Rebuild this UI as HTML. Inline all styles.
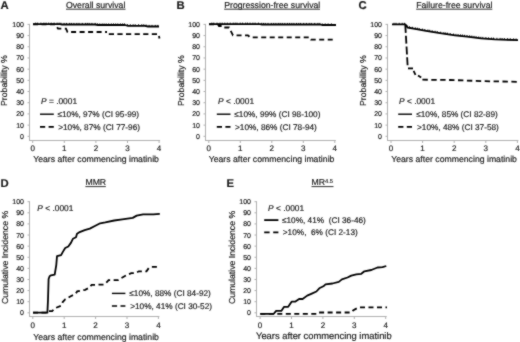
<!DOCTYPE html>
<html><head><meta charset="utf-8"><style>
html,body{margin:0;padding:0;background:#fff;}
svg{display:block;}
text{font-family:"Liberation Sans", sans-serif;fill:#1a1a1a;stroke:#1a1a1a;stroke-width:0.18px;text-rendering:geometricPrecision;}
</style></head><body>
<svg width="520" height="342" viewBox="0 0 520 342">
<defs><filter id="bl" x="0" y="0" width="1" height="1" color-interpolation-filters="sRGB"><feConvolveMatrix order="3" kernelMatrix="1 2 1 2 16 2 1 2 1" divisor="28" edgeMode="duplicate"/></filter></defs>
<g filter="url(#bl)">
<rect width="520" height="342" fill="#fff"/>
<line x1="29.5" y1="23.9" x2="29.5" y2="140.5" stroke="#b0b0b0" stroke-width="1"/>
<line x1="29.0" y1="140.5" x2="160.10000000000002" y2="140.5" stroke="#b0b0b0" stroke-width="1"/>
<line x1="27.5" y1="136.30" x2="29.5" y2="136.30" stroke="#b0b0b0" stroke-width="1"/>
<text x="24" y="138.80" font-size="7" text-anchor="end">0</text>
<line x1="27.5" y1="125.11" x2="29.5" y2="125.11" stroke="#b0b0b0" stroke-width="1"/>
<text x="24" y="127.61" font-size="7" text-anchor="end">10</text>
<line x1="27.5" y1="113.92" x2="29.5" y2="113.92" stroke="#b0b0b0" stroke-width="1"/>
<text x="24" y="116.42" font-size="7" text-anchor="end">20</text>
<line x1="27.5" y1="102.73" x2="29.5" y2="102.73" stroke="#b0b0b0" stroke-width="1"/>
<text x="24" y="105.23" font-size="7" text-anchor="end">30</text>
<line x1="27.5" y1="91.54" x2="29.5" y2="91.54" stroke="#b0b0b0" stroke-width="1"/>
<text x="24" y="94.04" font-size="7" text-anchor="end">40</text>
<line x1="27.5" y1="80.35" x2="29.5" y2="80.35" stroke="#b0b0b0" stroke-width="1"/>
<text x="24" y="82.85" font-size="7" text-anchor="end">50</text>
<line x1="27.5" y1="69.16" x2="29.5" y2="69.16" stroke="#b0b0b0" stroke-width="1"/>
<text x="24" y="71.66" font-size="7" text-anchor="end">60</text>
<line x1="27.5" y1="57.97" x2="29.5" y2="57.97" stroke="#b0b0b0" stroke-width="1"/>
<text x="24" y="60.47" font-size="7" text-anchor="end">70</text>
<line x1="27.5" y1="46.78" x2="29.5" y2="46.78" stroke="#b0b0b0" stroke-width="1"/>
<text x="24" y="49.28" font-size="7" text-anchor="end">80</text>
<line x1="27.5" y1="35.59" x2="29.5" y2="35.59" stroke="#b0b0b0" stroke-width="1"/>
<text x="24" y="38.09" font-size="7" text-anchor="end">90</text>
<line x1="27.5" y1="24.40" x2="29.5" y2="24.40" stroke="#b0b0b0" stroke-width="1"/>
<text x="24" y="26.90" font-size="7" text-anchor="end">100</text>
<line x1="32.70" y1="140.5" x2="32.70" y2="143.0" stroke="#b0b0b0" stroke-width="1"/>
<text x="32.70" y="150.8" font-size="8" text-anchor="middle">0</text>
<line x1="64.30" y1="140.5" x2="64.30" y2="143.0" stroke="#b0b0b0" stroke-width="1"/>
<text x="64.30" y="150.8" font-size="8" text-anchor="middle">1</text>
<line x1="95.90" y1="140.5" x2="95.90" y2="143.0" stroke="#b0b0b0" stroke-width="1"/>
<text x="95.90" y="150.8" font-size="8" text-anchor="middle">2</text>
<line x1="127.50" y1="140.5" x2="127.50" y2="143.0" stroke="#b0b0b0" stroke-width="1"/>
<text x="127.50" y="150.8" font-size="8" text-anchor="middle">3</text>
<line x1="159.10" y1="140.5" x2="159.10" y2="143.0" stroke="#b0b0b0" stroke-width="1"/>
<text x="159.10" y="150.8" font-size="8" text-anchor="middle">4</text>
<text x="33.2" y="162.0" font-size="8.7">Years after commencing imatinib</text>
<text transform="translate(7.3,80.6) rotate(-90)" font-size="8.7" text-anchor="middle">Probability %</text>
<text x="0.5" y="9.4" font-size="11.3" font-weight="bold">A</text>
<text x="66" y="7.8" font-size="8.7">Overall survival</text>
<line x1="66" y1="9.2" x2="125.5" y2="9.2" stroke="#333" stroke-width="1"/>
<text x="41" y="104" font-size="8.4"><tspan font-style="italic">P</tspan> = .0001</text>
<line x1="40" y1="114.2" x2="53.8" y2="114.2" stroke="#000" stroke-width="1.4"/>
<line x1="40" y1="126.8" x2="53.8" y2="126.8" stroke="#000" stroke-width="1.7" stroke-dasharray="5.2 3.4"/>
<text x="57.5" y="117.2" font-size="8.25" xml:space="preserve">≤10%, 97% (CI 95-99)</text>
<text x="58.2" y="129.8" font-size="8.25" xml:space="preserve">&gt;10%, 87% (CI 77-96)</text>
<path d="M33,24.2 H60 L62,24.5 H95 L98,25 H125 L128,25.8 H145 L148,26.5 H159" fill="none" stroke="#000" stroke-width="1.8" stroke-linejoin="round"/>
<path d="M33,24.4 H55 L56,25.5 L58,28.6 H66 L67.5,32 H107" fill="none" stroke="#000" stroke-width="1.8" stroke-dasharray="5 3.5"/>
<path d="M108.8,34.2 H158.5 L159.5,38.5" fill="none" stroke="#000" stroke-width="1.8" stroke-dasharray="5.2 3.4"/>
<path d="M35.7,22.6v1.9 M37.7,22.6v1.9 M40.9,22.6v1.9 M43.9,22.6v1.9 M46.1,22.6v1.9 M48.7,22.6v1.9 M51.2,22.6v1.9 M54.1,22.6v1.9 M57.1,22.6v1.9 M59.1,22.6v1.9 M60.9,22.7v1.9 M64.1,22.9v1.9 M66.5,22.9v1.9 M69.6,22.9v1.9 M71.4,22.9v1.9 M73.9,22.9v1.9 M76.8,22.9v1.9 M79.0,22.9v1.9 M82.3,22.9v1.9 M85.6,22.9v1.9 M87.4,22.9v1.9 M89.2,22.9v1.9 M91.9,22.9v1.9 M95.2,22.9v1.9 M97.6,23.3v1.9 M99.8,23.4v1.9 M102.2,23.4v1.9 M104.1,23.4v1.9 M106.2,23.4v1.9 M108.7,23.4v1.9 M111.3,23.4v1.9 M113.5,23.4v1.9 M115.7,23.4v1.9 M117.8,23.4v1.9 M120.4,23.4v1.9 M122.6,23.4v1.9 M124.5,23.4v1.9 M127.6,24.1v1.9 M130.3,24.2v1.9 M133.1,24.2v1.9 M135.2,24.2v1.9 M138.6,24.2v1.9 M141.8,24.2v1.9 M143.8,24.2v1.9 M146.1,24.5v1.9 M149.1,24.9v1.9 M152.0,24.9v1.9 M155.3,24.9v1.9 M157.8,24.9v1.9" fill="none" stroke="#000" stroke-width="0.9"/>
<line x1="205.5" y1="23.9" x2="205.5" y2="140.5" stroke="#b0b0b0" stroke-width="1"/>
<line x1="205.0" y1="140.5" x2="335.8" y2="140.5" stroke="#b0b0b0" stroke-width="1"/>
<line x1="203.5" y1="136.30" x2="205.5" y2="136.30" stroke="#b0b0b0" stroke-width="1"/>
<text x="200" y="138.80" font-size="7" text-anchor="end">0</text>
<line x1="203.5" y1="125.11" x2="205.5" y2="125.11" stroke="#b0b0b0" stroke-width="1"/>
<text x="200" y="127.61" font-size="7" text-anchor="end">10</text>
<line x1="203.5" y1="113.92" x2="205.5" y2="113.92" stroke="#b0b0b0" stroke-width="1"/>
<text x="200" y="116.42" font-size="7" text-anchor="end">20</text>
<line x1="203.5" y1="102.73" x2="205.5" y2="102.73" stroke="#b0b0b0" stroke-width="1"/>
<text x="200" y="105.23" font-size="7" text-anchor="end">30</text>
<line x1="203.5" y1="91.54" x2="205.5" y2="91.54" stroke="#b0b0b0" stroke-width="1"/>
<text x="200" y="94.04" font-size="7" text-anchor="end">40</text>
<line x1="203.5" y1="80.35" x2="205.5" y2="80.35" stroke="#b0b0b0" stroke-width="1"/>
<text x="200" y="82.85" font-size="7" text-anchor="end">50</text>
<line x1="203.5" y1="69.16" x2="205.5" y2="69.16" stroke="#b0b0b0" stroke-width="1"/>
<text x="200" y="71.66" font-size="7" text-anchor="end">60</text>
<line x1="203.5" y1="57.97" x2="205.5" y2="57.97" stroke="#b0b0b0" stroke-width="1"/>
<text x="200" y="60.47" font-size="7" text-anchor="end">70</text>
<line x1="203.5" y1="46.78" x2="205.5" y2="46.78" stroke="#b0b0b0" stroke-width="1"/>
<text x="200" y="49.28" font-size="7" text-anchor="end">80</text>
<line x1="203.5" y1="35.59" x2="205.5" y2="35.59" stroke="#b0b0b0" stroke-width="1"/>
<text x="200" y="38.09" font-size="7" text-anchor="end">90</text>
<line x1="203.5" y1="24.40" x2="205.5" y2="24.40" stroke="#b0b0b0" stroke-width="1"/>
<text x="200" y="26.90" font-size="7" text-anchor="end">100</text>
<line x1="208.80" y1="140.5" x2="208.80" y2="143.0" stroke="#b0b0b0" stroke-width="1"/>
<text x="208.80" y="150.8" font-size="8" text-anchor="middle">0</text>
<line x1="240.30" y1="140.5" x2="240.30" y2="143.0" stroke="#b0b0b0" stroke-width="1"/>
<text x="240.30" y="150.8" font-size="8" text-anchor="middle">1</text>
<line x1="271.80" y1="140.5" x2="271.80" y2="143.0" stroke="#b0b0b0" stroke-width="1"/>
<text x="271.80" y="150.8" font-size="8" text-anchor="middle">2</text>
<line x1="303.30" y1="140.5" x2="303.30" y2="143.0" stroke="#b0b0b0" stroke-width="1"/>
<text x="303.30" y="150.8" font-size="8" text-anchor="middle">3</text>
<line x1="334.80" y1="140.5" x2="334.80" y2="143.0" stroke="#b0b0b0" stroke-width="1"/>
<text x="334.80" y="150.8" font-size="8" text-anchor="middle">4</text>
<text x="208.7" y="162.0" font-size="8.7">Years after commencing imatinib</text>
<text transform="translate(183.6,80.6) rotate(-90)" font-size="8.7" text-anchor="middle">Probability %</text>
<text x="176.5" y="9.4" font-size="11.3" font-weight="bold">B</text>
<text x="224.2" y="7.8" font-size="8.7">Progression-free survival</text>
<line x1="224.2" y1="9.2" x2="320" y2="9.2" stroke="#333" stroke-width="1"/>
<text x="218" y="104" font-size="8.4"><tspan font-style="italic">P</tspan> &lt; .0001</text>
<line x1="216.8" y1="114.2" x2="230.5" y2="114.2" stroke="#000" stroke-width="1.4"/>
<line x1="216.8" y1="126.8" x2="230.5" y2="126.8" stroke="#000" stroke-width="1.7" stroke-dasharray="5.2 3.4"/>
<text x="234.3" y="117.2" font-size="8.25" xml:space="preserve">≤10%, 99% (CI 98-100)</text>
<text x="235" y="129.8" font-size="8.25" xml:space="preserve">&gt;10%, 86% (CI 78-94)</text>
<path d="M209,24.2 H260 L262,24.5 H320 L322,25 H336" fill="none" stroke="#000" stroke-width="1.8" stroke-linejoin="round"/>
<path d="M209,24.4 H218 L219,26 H222 L223,27.5 H229 L233,35.3 H248 L250,37.3 H310 L311,39.6 H336" fill="none" stroke="#000" stroke-width="1.8" stroke-dasharray="5 3.5"/>
<path d="M211.8,22.6v1.9 M213.8,22.6v1.9 M217.0,22.6v1.9 M220.0,22.6v1.9 M222.2,22.6v1.9 M224.8,22.6v1.9 M227.3,22.6v1.9 M230.2,22.6v1.9 M233.2,22.6v1.9 M235.2,22.6v1.9 M237.0,22.6v1.9 M240.2,22.6v1.9 M242.6,22.6v1.9 M245.7,22.6v1.9 M247.5,22.6v1.9 M250.0,22.6v1.9 M252.9,22.6v1.9 M255.1,22.6v1.9 M258.4,22.6v1.9 M261.7,22.8v1.9 M263.5,22.9v1.9 M265.3,22.9v1.9 M268.0,22.9v1.9 M271.3,22.9v1.9 M273.7,22.9v1.9 M275.9,22.9v1.9 M278.3,22.9v1.9 M280.2,22.9v1.9 M282.3,22.9v1.9 M284.8,22.9v1.9 M287.4,22.9v1.9 M289.6,22.9v1.9 M291.8,22.9v1.9 M293.9,22.9v1.9 M296.5,22.9v1.9 M298.7,22.9v1.9 M300.6,22.9v1.9 M303.7,22.9v1.9 M306.4,22.9v1.9 M309.2,22.9v1.9 M311.3,22.9v1.9 M314.7,22.9v1.9 M317.9,22.9v1.9 M319.9,22.9v1.9 M322.2,23.4v1.9 M325.2,23.4v1.9 M328.1,23.4v1.9 M331.4,23.4v1.9" fill="none" stroke="#000" stroke-width="0.9"/>
<line x1="387.5" y1="23.9" x2="387.5" y2="140.5" stroke="#b0b0b0" stroke-width="1"/>
<line x1="387.0" y1="140.5" x2="518.4" y2="140.5" stroke="#b0b0b0" stroke-width="1"/>
<line x1="385.5" y1="136.30" x2="387.5" y2="136.30" stroke="#b0b0b0" stroke-width="1"/>
<text x="382" y="138.80" font-size="7" text-anchor="end">0</text>
<line x1="385.5" y1="125.11" x2="387.5" y2="125.11" stroke="#b0b0b0" stroke-width="1"/>
<text x="382" y="127.61" font-size="7" text-anchor="end">10</text>
<line x1="385.5" y1="113.92" x2="387.5" y2="113.92" stroke="#b0b0b0" stroke-width="1"/>
<text x="382" y="116.42" font-size="7" text-anchor="end">20</text>
<line x1="385.5" y1="102.73" x2="387.5" y2="102.73" stroke="#b0b0b0" stroke-width="1"/>
<text x="382" y="105.23" font-size="7" text-anchor="end">30</text>
<line x1="385.5" y1="91.54" x2="387.5" y2="91.54" stroke="#b0b0b0" stroke-width="1"/>
<text x="382" y="94.04" font-size="7" text-anchor="end">40</text>
<line x1="385.5" y1="80.35" x2="387.5" y2="80.35" stroke="#b0b0b0" stroke-width="1"/>
<text x="382" y="82.85" font-size="7" text-anchor="end">50</text>
<line x1="385.5" y1="69.16" x2="387.5" y2="69.16" stroke="#b0b0b0" stroke-width="1"/>
<text x="382" y="71.66" font-size="7" text-anchor="end">60</text>
<line x1="385.5" y1="57.97" x2="387.5" y2="57.97" stroke="#b0b0b0" stroke-width="1"/>
<text x="382" y="60.47" font-size="7" text-anchor="end">70</text>
<line x1="385.5" y1="46.78" x2="387.5" y2="46.78" stroke="#b0b0b0" stroke-width="1"/>
<text x="382" y="49.28" font-size="7" text-anchor="end">80</text>
<line x1="385.5" y1="35.59" x2="387.5" y2="35.59" stroke="#b0b0b0" stroke-width="1"/>
<text x="382" y="38.09" font-size="7" text-anchor="end">90</text>
<line x1="385.5" y1="24.40" x2="387.5" y2="24.40" stroke="#b0b0b0" stroke-width="1"/>
<text x="382" y="26.90" font-size="7" text-anchor="end">100</text>
<line x1="391.00" y1="140.5" x2="391.00" y2="143.0" stroke="#b0b0b0" stroke-width="1"/>
<text x="391.00" y="150.8" font-size="8" text-anchor="middle">0</text>
<line x1="422.60" y1="140.5" x2="422.60" y2="143.0" stroke="#b0b0b0" stroke-width="1"/>
<text x="422.60" y="150.8" font-size="8" text-anchor="middle">1</text>
<line x1="454.20" y1="140.5" x2="454.20" y2="143.0" stroke="#b0b0b0" stroke-width="1"/>
<text x="454.20" y="150.8" font-size="8" text-anchor="middle">2</text>
<line x1="485.80" y1="140.5" x2="485.80" y2="143.0" stroke="#b0b0b0" stroke-width="1"/>
<text x="485.80" y="150.8" font-size="8" text-anchor="middle">3</text>
<line x1="517.40" y1="140.5" x2="517.40" y2="143.0" stroke="#b0b0b0" stroke-width="1"/>
<text x="517.40" y="150.8" font-size="8" text-anchor="middle">4</text>
<text x="391.2" y="162.0" font-size="8.7">Years after commencing imatinib</text>
<text transform="translate(365.8,80.6) rotate(-90)" font-size="8.7" text-anchor="middle">Probability %</text>
<text x="358.5" y="9.4" font-size="11.3" font-weight="bold">C</text>
<text x="416.2" y="7.8" font-size="8.7">Failure-free survival</text>
<line x1="416.2" y1="9.2" x2="492.3" y2="9.2" stroke="#333" stroke-width="1"/>
<text x="399" y="104" font-size="8.4"><tspan font-style="italic">P</tspan> &lt; .0001</text>
<line x1="398.2" y1="114.2" x2="412" y2="114.2" stroke="#000" stroke-width="1.4"/>
<line x1="398.2" y1="126.8" x2="412" y2="126.8" stroke="#000" stroke-width="1.7" stroke-dasharray="5.2 3.4"/>
<text x="416.2" y="117.2" font-size="8.25" xml:space="preserve">≤10%, 85% (CI 82-89)</text>
<text x="417" y="129.8" font-size="8.25" xml:space="preserve">&gt;10%, 48% (CI 37-58)</text>
<path d="M392,24.4 H405.5 L407.5,27.5 L415,28.9 L426,30.8 L440,33.2 L455,35.4 L467,36.6 L481,38.4 L495,39.3 L518,40.2" fill="none" stroke="#000" stroke-width="1.8" stroke-linejoin="round"/>
<path d="M422.4,79.7 L450,80 L485,81.2 L518,81.8" fill="none" stroke="#000" stroke-width="1.8" stroke-dasharray="5.4 3.5"/>
<path d="M405.3,24.9 L407.6,65.5" fill="none" stroke="#000" stroke-width="1.8" stroke-dasharray="8 2.8"/>
<path d="M408,68.4 H413" fill="none" stroke="#000" stroke-width="1.8"/>
<path d="M413.6,70.8 L415.5,74.8" fill="none" stroke="#000" stroke-width="1.8"/>
<path d="M418,75.6 L421.2,77.6" fill="none" stroke="#000" stroke-width="1.8"/>
<path d="M394.0,22.8v1.9 M396.0,22.8v1.9 M399.2,22.8v1.9 M402.2,22.8v1.9 M404.4,22.8v1.9 M407.0,25.1v1.9 M409.5,26.3v1.9 M412.4,26.8v1.9 M415.4,27.4v1.9 M417.4,27.7v1.9 M419.2,28.0v1.9 M422.4,28.6v1.9 M424.8,29.0v1.9 M427.9,29.5v1.9 M429.7,29.8v1.9 M432.2,30.3v1.9 M435.1,30.8v1.9 M437.3,31.1v1.9 M440.6,31.7v1.9 M443.9,32.2v1.9 M445.7,32.4v1.9 M447.5,32.7v1.9 M450.2,33.1v1.9 M453.5,33.6v1.9 M455.9,33.9v1.9 M458.1,34.1v1.9 M460.5,34.4v1.9 M462.4,34.5v1.9 M464.5,34.8v1.9 M467.0,35.0v1.9 M469.6,35.3v1.9 M471.8,35.6v1.9 M474.0,35.9v1.9 M476.1,36.2v1.9 M478.7,36.5v1.9 M480.9,36.8v1.9 M482.8,36.9v1.9 M485.9,37.1v1.9 M488.6,37.3v1.9 M491.4,37.5v1.9 M493.5,37.6v1.9 M496.9,37.8v1.9 M500.1,37.9v1.9 M502.1,38.0v1.9 M504.4,38.1v1.9 M507.4,38.2v1.9 M510.3,38.3v1.9 M513.6,38.4v1.9 M516.1,38.5v1.9" fill="none" stroke="#000" stroke-width="0.9"/>
<line x1="29.5" y1="201.2" x2="29.5" y2="316.5" stroke="#b0b0b0" stroke-width="1"/>
<line x1="29.0" y1="316.5" x2="159.39999999999998" y2="316.5" stroke="#b0b0b0" stroke-width="1"/>
<line x1="27.5" y1="312.80" x2="29.5" y2="312.80" stroke="#b0b0b0" stroke-width="1"/>
<text x="24" y="315.30" font-size="7" text-anchor="end">0</text>
<line x1="27.5" y1="301.69" x2="29.5" y2="301.69" stroke="#b0b0b0" stroke-width="1"/>
<text x="24" y="304.19" font-size="7" text-anchor="end">10</text>
<line x1="27.5" y1="290.58" x2="29.5" y2="290.58" stroke="#b0b0b0" stroke-width="1"/>
<text x="24" y="293.08" font-size="7" text-anchor="end">20</text>
<line x1="27.5" y1="279.47" x2="29.5" y2="279.47" stroke="#b0b0b0" stroke-width="1"/>
<text x="24" y="281.97" font-size="7" text-anchor="end">30</text>
<line x1="27.5" y1="268.36" x2="29.5" y2="268.36" stroke="#b0b0b0" stroke-width="1"/>
<text x="24" y="270.86" font-size="7" text-anchor="end">40</text>
<line x1="27.5" y1="257.25" x2="29.5" y2="257.25" stroke="#b0b0b0" stroke-width="1"/>
<text x="24" y="259.75" font-size="7" text-anchor="end">50</text>
<line x1="27.5" y1="246.14" x2="29.5" y2="246.14" stroke="#b0b0b0" stroke-width="1"/>
<text x="24" y="248.64" font-size="7" text-anchor="end">60</text>
<line x1="27.5" y1="235.03" x2="29.5" y2="235.03" stroke="#b0b0b0" stroke-width="1"/>
<text x="24" y="237.53" font-size="7" text-anchor="end">70</text>
<line x1="27.5" y1="223.92" x2="29.5" y2="223.92" stroke="#b0b0b0" stroke-width="1"/>
<text x="24" y="226.42" font-size="7" text-anchor="end">80</text>
<line x1="27.5" y1="212.81" x2="29.5" y2="212.81" stroke="#b0b0b0" stroke-width="1"/>
<text x="24" y="215.31" font-size="7" text-anchor="end">90</text>
<line x1="27.5" y1="201.70" x2="29.5" y2="201.70" stroke="#b0b0b0" stroke-width="1"/>
<text x="24" y="204.20" font-size="7" text-anchor="end">100</text>
<line x1="32.80" y1="316.5" x2="32.80" y2="319.0" stroke="#b0b0b0" stroke-width="1"/>
<text x="32.80" y="327.6" font-size="8" text-anchor="middle">0</text>
<line x1="64.20" y1="316.5" x2="64.20" y2="319.0" stroke="#b0b0b0" stroke-width="1"/>
<text x="64.20" y="327.6" font-size="8" text-anchor="middle">1</text>
<line x1="95.60" y1="316.5" x2="95.60" y2="319.0" stroke="#b0b0b0" stroke-width="1"/>
<text x="95.60" y="327.6" font-size="8" text-anchor="middle">2</text>
<line x1="127.00" y1="316.5" x2="127.00" y2="319.0" stroke="#b0b0b0" stroke-width="1"/>
<text x="127.00" y="327.6" font-size="8" text-anchor="middle">3</text>
<line x1="158.40" y1="316.5" x2="158.40" y2="319.0" stroke="#b0b0b0" stroke-width="1"/>
<text x="158.40" y="327.6" font-size="8" text-anchor="middle">4</text>
<text x="33.2" y="339.6" font-size="8.7">Years after commencing imatinib</text>
<text transform="translate(7.9,257.5) rotate(-90)" font-size="8.7" text-anchor="middle">Cumulative Incidence %</text>
<text x="0.5" y="186.8" font-size="11.3" font-weight="bold">D</text>
<text x="85.4" y="185.4" font-size="8.7">MMR</text>
<line x1="85.4" y1="186.6" x2="105.8" y2="186.6" stroke="#333" stroke-width="1"/>
<text x="37.3" y="211" font-size="8.4"><tspan font-style="italic">P</tspan> &lt; .0001</text>
<line x1="111.9" y1="293.4" x2="125.4" y2="293.4" stroke="#000" stroke-width="1.4"/>
<line x1="111.9" y1="306" x2="125.4" y2="306" stroke="#000" stroke-width="1.7" stroke-dasharray="5.2 3.4"/>
<text x="129.3" y="296.4" font-size="8.25" xml:space="preserve">≤10%, 88% (CI 84-92)</text>
<text x="130.2" y="309.0" font-size="8.25" xml:space="preserve">&gt;10%, 41% (CI 30-52)</text>
<path d="M33,312.6 H47.4 L48,300 L48.6,279 L49.6,276.2 L51,275.3 L54.7,274.6 L56.3,264.8 L57,256.2 L61.1,255.2 L62.7,252.1 L65.2,248 L68.3,246.5 L70.9,242.9 L72.9,238.8 L76,237.3 L77,233.7 L79,232.4 L84.7,230.1 L89.8,228.6 L94.9,226 L100.2,223.3 L105.3,222.4 L114.2,220.5 L122.3,219.4 L132.7,217.9 L136.7,215.6 L143.1,214.4 L153.4,214.4 L159.8,213.8" fill="none" stroke="#000" stroke-width="1.8" stroke-linejoin="round"/>
<path d="M33,312.6 H47.6 L48.2,311.1 H52.2 L54.7,308.3 L61.1,305.8 L62.7,302.1 L65.1,299.4 L70.7,296.2 L75.6,293.8 L77.2,291.4 L85.2,289.8 L88.4,288.1 L91.6,284.9 L104.5,284.5 L107.5,281.5 L108.5,280.2 H118 L121.3,278.1 L126.9,275 L131.3,273.1 H135.6 L138.8,271.3 H146.5 L148.8,268 L151,266.9 H160.2" fill="none" stroke="#000" stroke-width="1.8" stroke-dasharray="5 3.5"/>
<line x1="256.5" y1="201.2" x2="256.5" y2="316.5" stroke="#b0b0b0" stroke-width="1"/>
<line x1="256.0" y1="316.5" x2="386.70000000000005" y2="316.5" stroke="#b0b0b0" stroke-width="1"/>
<line x1="254.5" y1="312.80" x2="256.5" y2="312.80" stroke="#b0b0b0" stroke-width="1"/>
<text x="251" y="315.30" font-size="7" text-anchor="end">0</text>
<line x1="254.5" y1="301.69" x2="256.5" y2="301.69" stroke="#b0b0b0" stroke-width="1"/>
<text x="251" y="304.19" font-size="7" text-anchor="end">10</text>
<line x1="254.5" y1="290.58" x2="256.5" y2="290.58" stroke="#b0b0b0" stroke-width="1"/>
<text x="251" y="293.08" font-size="7" text-anchor="end">20</text>
<line x1="254.5" y1="279.47" x2="256.5" y2="279.47" stroke="#b0b0b0" stroke-width="1"/>
<text x="251" y="281.97" font-size="7" text-anchor="end">30</text>
<line x1="254.5" y1="268.36" x2="256.5" y2="268.36" stroke="#b0b0b0" stroke-width="1"/>
<text x="251" y="270.86" font-size="7" text-anchor="end">40</text>
<line x1="254.5" y1="257.25" x2="256.5" y2="257.25" stroke="#b0b0b0" stroke-width="1"/>
<text x="251" y="259.75" font-size="7" text-anchor="end">50</text>
<line x1="254.5" y1="246.14" x2="256.5" y2="246.14" stroke="#b0b0b0" stroke-width="1"/>
<text x="251" y="248.64" font-size="7" text-anchor="end">60</text>
<line x1="254.5" y1="235.03" x2="256.5" y2="235.03" stroke="#b0b0b0" stroke-width="1"/>
<text x="251" y="237.53" font-size="7" text-anchor="end">70</text>
<line x1="254.5" y1="223.92" x2="256.5" y2="223.92" stroke="#b0b0b0" stroke-width="1"/>
<text x="251" y="226.42" font-size="7" text-anchor="end">80</text>
<line x1="254.5" y1="212.81" x2="256.5" y2="212.81" stroke="#b0b0b0" stroke-width="1"/>
<text x="251" y="215.31" font-size="7" text-anchor="end">90</text>
<line x1="254.5" y1="201.70" x2="256.5" y2="201.70" stroke="#b0b0b0" stroke-width="1"/>
<text x="251" y="204.20" font-size="7" text-anchor="end">100</text>
<line x1="260.10" y1="316.5" x2="260.10" y2="319.0" stroke="#b0b0b0" stroke-width="1"/>
<text x="260.10" y="327.6" font-size="8" text-anchor="middle">0</text>
<line x1="291.50" y1="316.5" x2="291.50" y2="319.0" stroke="#b0b0b0" stroke-width="1"/>
<text x="291.50" y="327.6" font-size="8" text-anchor="middle">1</text>
<line x1="322.90" y1="316.5" x2="322.90" y2="319.0" stroke="#b0b0b0" stroke-width="1"/>
<text x="322.90" y="327.6" font-size="8" text-anchor="middle">2</text>
<line x1="354.30" y1="316.5" x2="354.30" y2="319.0" stroke="#b0b0b0" stroke-width="1"/>
<text x="354.30" y="327.6" font-size="8" text-anchor="middle">3</text>
<line x1="385.70" y1="316.5" x2="385.70" y2="319.0" stroke="#b0b0b0" stroke-width="1"/>
<text x="385.70" y="327.6" font-size="8" text-anchor="middle">4</text>
<text x="256" y="339.2" font-size="9.4">Years after commencing imatinib</text>
<text transform="translate(234.8,257.5) rotate(-90)" font-size="8.7" text-anchor="middle">Cumulative Incidence %</text>
<text x="226.5" y="186.8" font-size="11.3" font-weight="bold">E</text>
<text x="311.5" y="185.4" font-size="8.7">MR</text>
<line x1="311.5" y1="186.6" x2="333.5" y2="186.6" stroke="#333" stroke-width="1"/>
<text x="268.1" y="211" font-size="8.4"><tspan font-style="italic">P</tspan> &lt; .0001</text>
<line x1="264.2" y1="220.1" x2="278.4" y2="220.1" stroke="#000" stroke-width="1.8"/>
<line x1="264.2" y1="232.4" x2="278.4" y2="232.4" stroke="#000" stroke-width="1.7" stroke-dasharray="5.4 3.6"/>
<text x="282" y="223.1" font-size="8.25" xml:space="preserve">≤10%, 41%  (CI 36-46)</text>
<text x="282.8" y="235.4" font-size="8.25" xml:space="preserve">&gt;10%,  6% (CI 2-13)</text>
<path d="M260.3,313.8 H273.8 L276.1,310.9 H281.3 L284.1,306.8 H288.2 L291.6,301.7 H295.1 L299.1,299 H302.6 L307.2,295.6 L311.8,293.6 L316.4,291.5 L319.3,288.3 L323.4,286.3 L325.5,284.4 L332.5,283.5 L338.8,281.9 L341.9,279.4 L347.5,277.5 L351.3,275.6 L356.3,274.4 L361.3,273.8 L364.4,271.3 L371.3,270 L377.5,267.5 L382.5,267.1 L386.3,266" fill="none" stroke="#000" stroke-width="1.8" stroke-linejoin="round"/>
<path d="M260.3,313.9 H317.4 L318.5,312.5 H351 L353,310.5 L358.5,307.4 H387" fill="none" stroke="#000" stroke-width="1.8" stroke-dasharray="5 3.5"/>
<text x="325" y="182.6" font-size="5.8" style="stroke-width:0.12px">4.5</text>
</g></svg></body></html>
